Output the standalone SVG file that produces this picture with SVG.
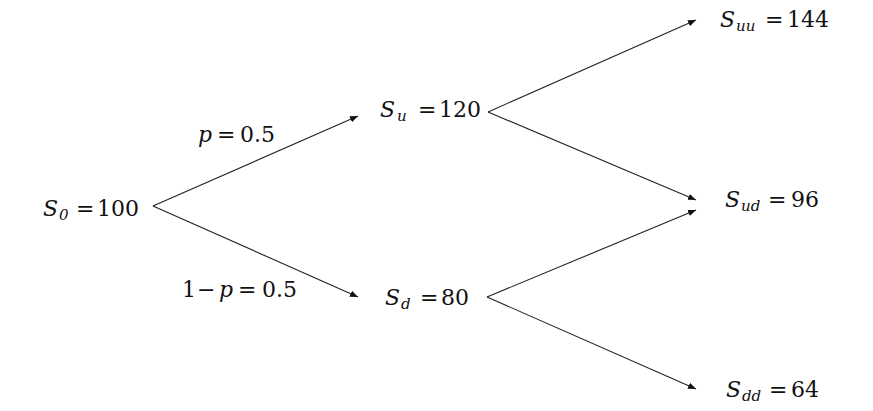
<svg xmlns="http://www.w3.org/2000/svg" width="873" height="411" viewBox="0 0 873 411">
<style>
text{font-family:"DejaVu Serif","Liberation Serif",serif;font-size:22px;fill:#111}
.v{font-style:italic}
.s{font-style:italic;font-size:15px}
.e{stroke:#222;stroke-width:1.1;fill:none;marker-end:url(#ah)}
</style>
<defs>
<marker id="ah" viewBox="0 0 10 10" refX="10" refY="5" markerWidth="8" markerHeight="8" markerUnits="userSpaceOnUse" orient="auto">
<path d="M0,1 L10,5 L0,9 z" fill="#111"/>
</marker>
</defs>
<rect width="873" height="411" fill="#fff"/>
<g id="connectors">
<line class="e" x1="153" y1="206" x2="358" y2="116"/>
<line class="e" x1="153" y1="206" x2="358" y2="297"/>
<line class="e" x1="488" y1="112" x2="696" y2="20"/>
<line class="e" x1="488" y1="112" x2="696" y2="200"/>
<line class="e" x1="487" y1="297" x2="696" y2="210"/>
<line class="e" x1="487" y1="297" x2="696" y2="389"/>
</g>
<g id="labels">
<text y="142"><tspan class="v" x="198">p</tspan><tspan x="217">=</tspan><tspan x="240">0.5</tspan></text>
<text y="297"><tspan x="182">1</tspan><tspan x="197">−</tspan><tspan class="v" x="219">p</tspan><tspan x="238">=</tspan><tspan x="262">0.5</tspan></text>
</g>
<g id="S0"><text y="216"><tspan class="v" x="43">S</tspan><tspan class="s" x="59" dy="4">0</tspan><tspan x="76" dy="-4">=</tspan><tspan x="97">100</tspan></text></g>
<g id="Su"><text y="117"><tspan class="v" x="380">S</tspan><tspan class="s" x="397" dy="4">u</tspan><tspan x="418" dy="-4">=</tspan><tspan x="439">120</tspan></text></g>
<g id="Sd"><text y="305"><tspan class="v" x="385">S</tspan><tspan class="s" x="401" dy="4">d</tspan><tspan x="420" dy="-4">=</tspan><tspan x="441">80</tspan></text></g>
<g id="Suu"><text y="27"><tspan class="v" x="720">S</tspan><tspan class="s" x="736" dy="4">uu</tspan><tspan x="765" dy="-4">=</tspan><tspan x="787">144</tspan></text></g>
<g id="Sud"><text y="207"><tspan class="v" x="725">S</tspan><tspan class="s" x="741" dy="4">ud</tspan><tspan x="768" dy="-4">=</tspan><tspan x="791">96</tspan></text></g>
<g id="Sdd"><text y="397"><tspan class="v" x="726">S</tspan><tspan class="s" x="742" dy="4">dd</tspan><tspan x="769" dy="-4">=</tspan><tspan x="791">64</tspan></text></g>
</svg>
